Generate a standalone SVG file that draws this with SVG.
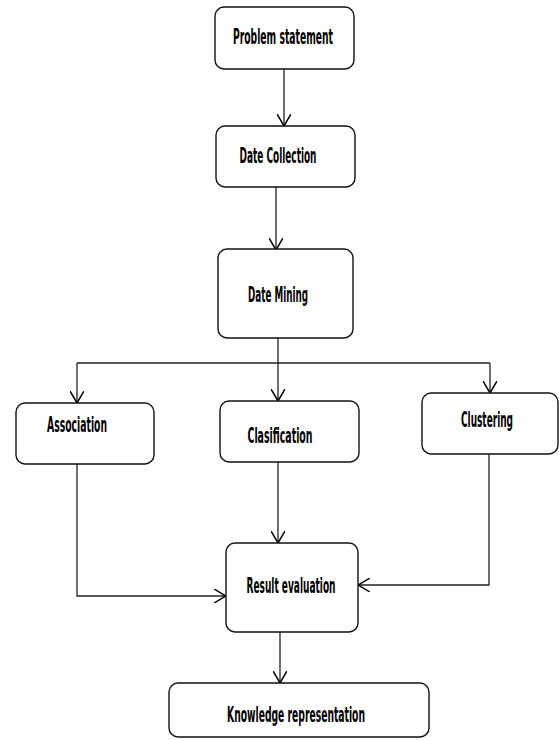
<svg xmlns="http://www.w3.org/2000/svg" width="559" height="740" viewBox="0 0 559 740">
<defs>
<style>
.box{fill:#fff;stroke:#111;stroke-width:1.4}
.lbl{font-family:"DejaVu Sans Condensed","Liberation Sans",sans-serif;font-weight:bold;font-size:21px;fill:#000;text-anchor:middle}
.ln{fill:none;stroke:#222;stroke-width:1.3}
</style>
<marker id="ah" viewBox="0 0 12 14" refX="12" refY="7" markerWidth="12" markerHeight="14" markerUnits="userSpaceOnUse" orient="auto">
<path d="M0,0 L12,7 L0,14" fill="none" stroke="#000" stroke-width="1.5"/>
</marker>
</defs>
<rect width="559" height="740" fill="#fff"/>
<g id="connectors">
<path class="ln" d="M284,69 V126" marker-end="url(#ah)"/>
<path class="ln" d="M276,187 V250" marker-end="url(#ah)"/>
<path class="ln" d="M278,338 V363 M77,363 H490"/>
<path class="ln" d="M77,363 V403" marker-end="url(#ah)"/>
<path class="ln" d="M278,363 V401" marker-end="url(#ah)"/>
<path class="ln" d="M490,363 V393" marker-end="url(#ah)"/>
<path class="ln" d="M77,464 V596 H226" marker-end="url(#ah)"/>
<path class="ln" d="M278,462 V543" marker-end="url(#ah)"/>
<path class="ln" d="M489,454 V585 H358" marker-end="url(#ah)"/>
<path class="ln" d="M280,632 V683" marker-end="url(#ah)"/>
</g>
<g id="problem"><rect class="box" x="215" y="7" width="139" height="62" rx="9"/><text class="lbl" x="283" y="44" textLength="100" lengthAdjust="spacingAndGlyphs">Problem statement</text></g>
<g id="collection"><rect class="box" x="216" y="126" width="139" height="61" rx="9"/><text class="lbl" x="278" y="163" textLength="77" lengthAdjust="spacingAndGlyphs">Date Collection</text></g>
<g id="mining"><rect class="box" x="218" y="249" width="135" height="89" rx="9"/><text class="lbl" x="278" y="302" textLength="60" lengthAdjust="spacingAndGlyphs">Date Mining</text></g>
<g id="association"><rect class="box" x="16" y="403" width="138" height="61" rx="9"/><text class="lbl" x="77" y="432" textLength="60" lengthAdjust="spacingAndGlyphs">Association</text></g>
<g id="classification"><rect class="box" x="220" y="401" width="139" height="61" rx="9"/><text class="lbl" x="280" y="443" textLength="65" lengthAdjust="spacingAndGlyphs">Clasification</text></g>
<g id="clustering"><rect class="box" x="422" y="393" width="136" height="61" rx="9"/><text class="lbl" x="487" y="427" textLength="52" lengthAdjust="spacingAndGlyphs">Clustering</text></g>
<g id="result"><rect class="box" x="226" y="543" width="132" height="89" rx="9"/><text class="lbl" x="291" y="593" textLength="89" lengthAdjust="spacingAndGlyphs">Result evaluation</text></g>
<g id="knowledge"><rect class="box" x="169" y="683" width="260" height="54" rx="9"/><text class="lbl" x="296" y="722" textLength="138" lengthAdjust="spacingAndGlyphs">Knowledge representation</text></g>
</svg>
